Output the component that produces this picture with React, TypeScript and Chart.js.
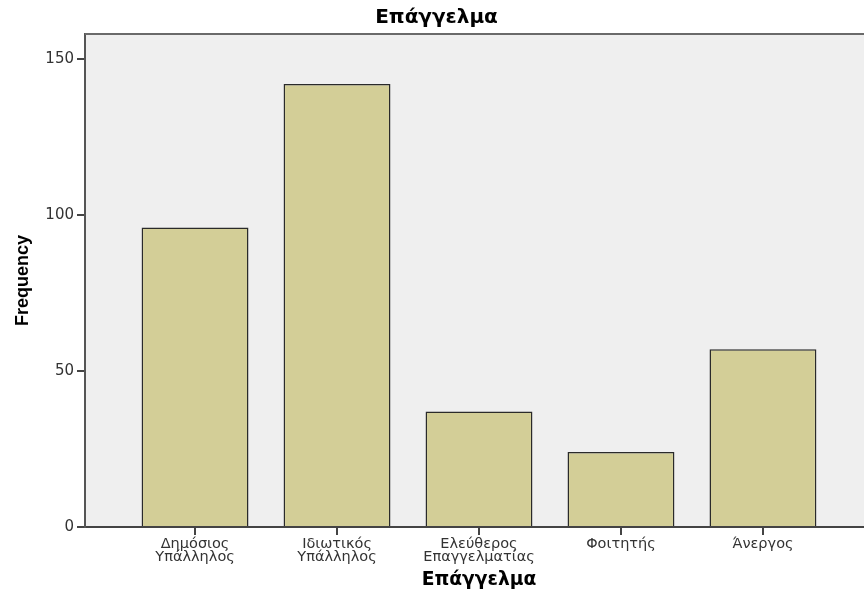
import React, { useEffect, useRef } from "react";
import { Chart, registerables } from "chart.js";

Chart.register(...registerables);

const chartTitle = "Επάγγελμα";
const xAxisTitle = "Επάγγελμα";
const yAxisTitle = "Frequency";
const categories = [
  "Δημόσιος Υπάλληλος",
  "Ιδιωτικός Υπάλληλος",
  "Ελεύθερος Επαγγελματίας",
  "Φοιτητής",
  "Άνεργος",
];
const tickLabelLines = [
  ["Δημόσιος", "Υπάλληλος"],
  ["Ιδιωτικός", "Υπάλληλος"],
  ["Ελεύθερος", "Επαγγελματίας"],
  ["Φοιτητής"],
  ["Άνεργος"],
];
const frequencies = [96, 142, 37, 24, 57];
const yTicks = [0, 50, 100, 150];

const plotDecor = {
  id: "plotDecor",
  beforeDraw(chart: any) {
    const { ctx, chartArea } = chart;
    ctx.save();
    ctx.fillStyle = "#efefef";
    ctx.fillRect(chartArea.left, chartArea.top, chartArea.right - chartArea.left, chartArea.bottom - chartArea.top);
    ctx.restore();
  },
  afterDraw(chart: any) {
    const { ctx, chartArea } = chart;
    ctx.save();
    ctx.strokeStyle = "#6a6a6a";
    ctx.lineWidth = 2;
    ctx.beginPath();
    ctx.moveTo(chartArea.left, chartArea.top);
    ctx.lineTo(chartArea.right, chartArea.top);
    ctx.stroke();
    ctx.restore();
  },
};

export default function App() {
  const ref = useRef<HTMLCanvasElement>(null);
  useEffect(() => {
    if (!ref.current) return;
    const chart = new Chart(ref.current, {
      type: "bar",
      data: {
        labels: categories,
        datasets: [
          {
            label: yAxisTitle,
            data: frequencies.map((v, i) => ({ x: i, y: v })) as any,
            backgroundColor: "#d3ce97",
            borderColor: "#2a2a2a",
            borderWidth: 1.5,
            barPercentage: 0.753,
            categoryPercentage: 1,
          },
        ],
      },
      options: {
        animation: false,
        responsive: false,
        maintainAspectRatio: false,
        layout: { padding: { left: 0, right: 0, top: 0, bottom: 0 } },
        plugins: {
          legend: { display: false },
          tooltip: { enabled: false },
          title: {
            display: true,
            text: chartTitle,
            color: "#000",
            font: { family: "DejaVu Sans", size: 20, weight: "bold" },
            padding: { top: 6, bottom: 4 },
          },
        },
        scales: {
          x: {
            type: "linear",
            offset: false,
            min: -0.775,
            max: 4.775,
            afterBuildTicks: (s: any) => {
              s.ticks = categories.map((_, i) => ({ value: i }));
            },
            afterFit: (s: any) => {
              s.height = 70;
            },
            ticks: {
              autoSkip: false,
              maxRotation: 0,
              color: "#333",
              padding: 3,
              font: { family: "DejaVu Sans", size: 14.5, lineHeight: 0.9 },
              callback: (v: any) => tickLabelLines[Math.round(Number(v))] ?? "",
            },
            grid: {
              display: true,
              offset: false,
              drawOnChartArea: false,
              drawTicks: true,
              tickLength: 8,
              color: "#444",
              lineWidth: 2,
            },
            border: { display: true, color: "#444", width: 2 },
            title: {
              display: true,
              text: xAxisTitle,
              color: "#000",
              font: { family: "DejaVu Sans", size: 18.7, weight: "bold" },
              padding: { top: 0, bottom: 6 },
            },
          },
          y: {
            min: 0,
            max: 158,
            afterBuildTicks: (s: any) => {
              s.ticks = yTicks.map((v) => ({ value: v }));
            },
            afterFit: (s: any) => {
              s.width = 85;
            },
            ticks: {
              color: "#333",
              padding: 3,
              font: { family: "DejaVu Sans", size: 15 },
            },
            grid: {
              display: true,
              drawOnChartArea: false,
              drawTicks: true,
              tickLength: 8,
              color: "#444",
              lineWidth: 2,
            },
            border: { display: true, color: "#555", width: 2 },
            title: {
              display: true,
              text: yAxisTitle,
              color: "#000",
              font: { family: "Liberation Sans", size: 18, weight: "bold" },
              padding: { top: 12, bottom: 0 },
            },
          },
        },
      },
      plugins: [plotDecor],
    });
    return () => chart.destroy();
  }, []);
  return (
    <div style={{ position: "fixed", left: 0, top: 0, width: 864, height: 597, overflow: "hidden", background: "#fff" }}>
      <canvas ref={ref} width={873} height={597} style={{ display: "block", width: 873, height: 597 }} />
    </div>
  );
}
